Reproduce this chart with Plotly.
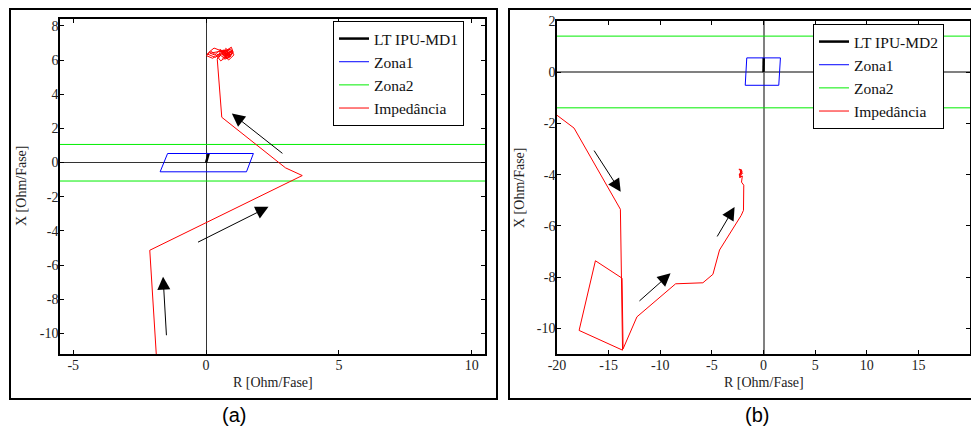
import plotly.graph_objects as go

# ---------------- data: panel (a) ----------------
lt_a_x = [0.0, 0.1]
lt_a_y = [0.0, 0.55]
z1_a_x = [-1.45, 1.78, 1.52, -1.73, -1.45]
z1_a_y = [0.53, 0.53, -0.54, -0.54, 0.53]
z2_a_levels = [1.06, -1.08]
imp_a_x = [-1.86, -2.12, 3.62, 2.99, 0.59, 0.42,
           0.42, 0.55, 0.30, 0.10, 0.02, 0.25, 0.45, 0.62, 0.80, 0.95, 1.02, 0.88, 0.70,
           0.75, 0.92, 1.05, 0.85, 0.60, 0.48, 0.65, 0.82, 0.98, 0.78, 0.55, 0.40, 0.20,
           0.05, 0.35, 0.58, 0.72, 0.90, 0.68, 0.85, 1.00, 0.76, 0.62, 0.83, 0.70,
           0.52, 0.66, 0.93, 0.71, 0.87, 0.60, 0.74, 0.95, 0.80, 0.64, 0.90, 0.77,
           0.15, 0.32, 0.50, 0.69, 0.84, 0.73, 0.58, 0.88, 0.97, 0.79, 0.67]
imp_a_y = [-11.6, -5.13, -0.76, -0.31, 2.65, 5.83,
           6.05, 6.55, 6.70, 6.45, 6.25, 6.10, 6.35, 6.20, 6.60, 6.75, 6.45, 6.15, 6.05,
           6.50, 6.65, 6.30, 6.00, 6.40, 6.15, 6.60, 6.30, 6.55, 6.20, 5.95, 6.25, 6.50,
           6.35, 6.15, 6.45, 6.25, 6.40, 6.55, 6.15, 6.50, 6.35, 6.10, 6.30, 6.45,
           6.62, 6.38, 6.22, 6.12, 6.48, 6.30, 6.68, 6.40, 6.08, 6.52, 6.28, 6.58,
           6.40, 6.30, 6.55, 6.42, 6.20, 6.35, 6.50, 6.62, 6.35, 6.25, 6.45]
arrows_a = [  # (tail_x, tail_y, head_x, head_y)
    (2.93, 0.47, 0.97, 2.87),
    (-0.36, -4.70, 2.35, -2.59),
    (-1.49, -10.19, -1.62, -6.68),
]
xt_a = [-5, 0, 5, 10]
yt_a = [-10, -8, -6, -4, -2, 0, 2, 4, 6, 8]
xr_a = [-5.5, 10.5]
yr_a = [-11.2, 8.4]

# ---------------- data: panel (b) ----------------
lt_b_x = [0.0, 0.02]
lt_b_y = [0.0, 0.56]
z1_b_x = [-1.62, 1.64, 1.48, -1.77, -1.62]
z1_b_y = [0.56, 0.56, -0.51, -0.51, 0.56]
z2_b_levels = [1.41, -1.39]
imp_b_x = [-20.0, -18.35, -13.86, -13.65, -17.86, -16.28, -13.70, -13.60, -12.26, -8.51,
           -5.87, -4.90, -4.26, -2.16, -1.94, -1.91, -2.13,
           -2.05, -2.25, -2.35, -2.15, -2.02, -2.28, -2.38, -2.10, -2.22, -2.32, -2.08, -2.20,
           -2.30, -2.12, -2.26]
imp_b_y = [-1.68, -2.18, -5.35, -10.85, -10.08, -7.36, -8.04, -10.80, -9.55, -8.26,
           -8.22, -7.89, -6.94, -5.59, -5.39, -4.41, -4.29,
           -4.05, -4.10, -3.98, -3.90, -3.95, -3.85, -3.78, -3.82, -3.92, -4.02, -3.88, -3.80,
           -4.12, -3.97, -3.86]
arrows_b = [
    (-16.5, -3.0, -13.83, -4.67),
    (-12.16, -8.98, -9.0, -7.85),
    (-4.57, -6.47, -2.8, -5.26),
]
xt_b = [-20, -15, -10, -5, 0, 5, 10, 15, 20]
yt_b = [-10, -8, -6, -4, -2, 0, 2]
xr_b = [-20, 20]
yr_b = [-11, 2]

names_a = ["LT IPU-MD1", "Zona1", "Zona2", "Impedância"]
names_b = ["LT IPU-MD2", "Zona1", "Zona2", "Impedância"]
axis_title = "R [Ohm/Fase]"
yaxis_title = "X [Ohm/Fase]"

W, H = 971, 430
SERIF = "Liberation Serif"


def px(x):
    return x / W


def py(y):
    return 1 - y / H


fig = go.Figure()


def add_panel(xa, ya, leg, names, lt_x, lt_y, z1x, z1y, z2, ix, iy, xr, imp_color):
    fig.add_trace(go.Scatter(x=lt_x, y=lt_y, mode="lines", name=names[0],
                             line=dict(color="black", width=2.5), xaxis=xa, yaxis=ya, legend=leg))
    fig.add_trace(go.Scatter(x=z1x, y=z1y, mode="lines", name=names[1],
                             line=dict(color="#0000ff", width=1), xaxis=xa, yaxis=ya, legend=leg))
    gx, gy = [], []
    for lv in z2:
        gx += [xr[0] - 50, xr[1] + 50, None]
        gy += [lv, lv, None]
    fig.add_trace(go.Scatter(x=gx, y=gy, mode="lines", name=names[2],
                             line=dict(color="#00ee00", width=1), xaxis=xa, yaxis=ya, legend=leg))
    fig.add_trace(go.Scatter(x=ix, y=iy, mode="lines", name=names[3],
                             line=dict(color=imp_color, width=1), xaxis=xa, yaxis=ya, legend=leg))


add_panel("x", "y", "legend", names_a, lt_a_x, lt_a_y, z1_a_x, z1_a_y, z2_a_levels,
          imp_a_x, imp_a_y, xr_a, "#ff0000")
add_panel("x2", "y2", "legend2", names_b, lt_b_x, lt_b_y, z1_b_x, z1_b_y, z2_b_levels,
          imp_b_x, imp_b_y, xr_b, "#ff0000")

tickfont = dict(family=SERIF, size=14, color="#222")


def axis_common(rng, tv, zc, zw):
    return dict(range=rng, tickvals=tv, ticktext=[str(v) for v in tv], showgrid=False,
                zeroline=True, zerolinecolor=zc, zerolinewidth=zw, automargin=False,
                showline=True, linecolor="black", linewidth=1.5, mirror="ticks",
                ticks="inside", ticklen=4, tickcolor="black", tickfont=tickfont,
                ticklabelstandoff=-3)


legfont = dict(family=SERIF, size=15.5, color="#111")
fig.update_layout(
    width=W, height=H, margin=dict(l=0, r=0, t=0, b=0, pad=0, autoexpand=False),
    paper_bgcolor="white", plot_bgcolor="white",
    xaxis=dict(domain=[px(60), px(485)], anchor="y", **axis_common(xr_a, xt_a, "#333", 1)),
    yaxis=dict(domain=[py(354), py(19)], anchor="x", **axis_common(yr_a, yt_a, "#333", 1)),
    xaxis2=dict(domain=[px(557), px(970)], anchor="y2", **axis_common(xr_b, xt_b, "#808080", 1.8)),
    yaxis2=dict(domain=[py(354), py(21)], anchor="x2", **axis_common(yr_b, yt_b, "#808080", 1.8)),
    legend=dict(x=px(333), y=py(21), xanchor="left", yanchor="top",
                bgcolor="white", bordercolor="black", borderwidth=1, font=legfont,
                entrywidth=100, entrywidthmode="pixels"),
    legend2=dict(x=px(813), y=py(24), xanchor="left", yanchor="top",
                 bgcolor="white", bordercolor="black", borderwidth=1, font=legfont,
                 entrywidth=110, entrywidthmode="pixels"),
    showlegend=True,
)

# arrows
for arrs, xr_, yr_ in [(arrows_a, "x", "y"), (arrows_b, "x2", "y2")]:
    for tx, ty, hx, hy in arrs:
        fig.add_annotation(x=hx, y=hy, ax=tx, ay=ty, xref=xr_, yref=yr_, axref=xr_, ayref=yr_,
                           text="", showarrow=True, arrowhead=2, arrowsize=2.6,
                           arrowwidth=1, arrowcolor="black")

# axis titles
for cx, cy in [(272.5, 382), (763.5, 382)]:
    fig.add_annotation(x=px(cx), y=py(cy), xref="paper", yref="paper", text=axis_title,
                       xanchor="center", yanchor="middle",
                       showarrow=False, font=dict(family=SERIF, size=14, color="#222"))
for cx, cy in [(22, 186), (519, 188)]:
    fig.add_annotation(x=px(cx), y=py(cy), xref="paper", yref="paper", text=yaxis_title,
                       xanchor="center", yanchor="middle",
                       textangle=-90, showarrow=False, font=dict(family=SERIF, size=14, color="#222"))

# panel labels
for cx, lab in [(234, "(a)"), (757, "(b)")]:
    fig.add_annotation(x=px(cx), y=py(415), xref="paper", yref="paper", text=lab,
                       xanchor="center", yanchor="middle",
                       showarrow=False, font=dict(family="Liberation Sans", size=20, color="black"))

# panel frames
for x0, x1 in [(10, 497), (509, 980)]:
    fig.add_shape(type="rect", xref="paper", yref="paper", x0=px(x0), x1=px(x1),
                  y0=py(399), y1=py(9), line=dict(color="black", width=2))

fig.write_html("out.html", config={"displayModeBar": False},
               post_script="document.body.style.margin='0';document.body.style.overflow='hidden';")
